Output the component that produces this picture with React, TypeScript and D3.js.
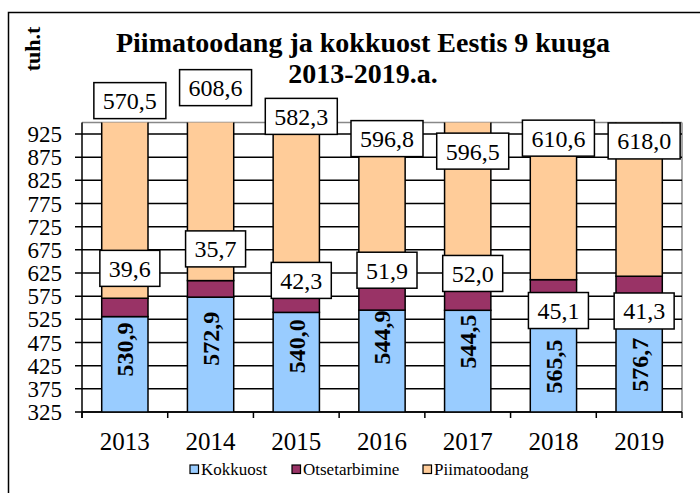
import React from "react";
import * as d3 from "d3";

const years = ["2013", "2014", "2015", "2016", "2017", "2018", "2019"];
const kokkuost = [530.9, 572.9, 540.0, 544.9, 544.5, 565.5, 576.7];
const otsetarbimine = [39.6, 35.7, 42.3, 51.9, 52.0, 45.1, 41.3];
const piimatoodang = [570.5, 608.6, 582.3, 596.8, 596.5, 610.6, 618.0];
const yTicks = [325, 375, 425, 475, 525, 575, 625, 675, 725, 775, 825, 875, 925];
const seriesNames = ["Kokkuost", "Otsetarbimine", "Piimatoodang"];

// manual label anchors (data units, as placed in the original)
const topLabelAt = [997, 1025, 963, 915, 888, 916, 910];
const midLabelAt = [635, 677, 609, 631, 624, 544, 543];
const blueLabelAt = [460, 483, 467, 486, 477, 423, 427];

const colors = ["#99CCFF", "#993366", "#FFCC99"];
const W = 700, H = 493;
const L = 82, R = 682, T = 122.4, B = 412;
const serif = '"Liberation Serif", "Times New Roman", serif';

const fmt = (v: number) => d3.format(".1f")(v).replace(".", ",");
const labelFs = 24;
const textW = (s: string) =>
  s.split("").reduce((a, c) => a + (c === "," ? 0.25 : 0.5), 0) * labelFs;

export default function App() {
  const x = d3.scaleBand<string>().domain(years).range([L, R]).paddingInner(0.46).paddingOuter(0.23);
  const y = d3.scaleLinear().domain([325, 950]).range([B, T]);
  const step = x.step();
  const bw = x.bandwidth();
  const cx = (yr: string) => x(yr)! + bw / 2;

  const rows = years.map((yr, i) => ({ yr, k: kokkuost[i], o: otsetarbimine[i], p: piimatoodang[i] }));
  const stack = d3.stack<any>().keys(["k", "o", "p"])(rows);

  const boxH = 36, pad = 9, dxLabel = 5;
  const legendItems = [
    { x: 190, name: seriesNames[0], c: colors[0] },
    { x: 292, name: seriesNames[1], c: colors[1] },
    { x: 423, name: seriesNames[2], c: colors[2] },
  ];
  const ts = { fontFamily: serif };

  const boxed = (key: string, xc: number, yc: number, s: string) => {
    const w = textW(s) + 2 * pad;
    return (
      <g key={key}>
        <rect x={xc - w / 2} y={yc - boxH / 2} width={w} height={boxH} fill="#fff" stroke="#000" strokeWidth={1.5} />
        <text x={xc} y={yc} dy="0.35em" textAnchor="middle" fontSize={labelFs} style={ts}>
          {s}
        </text>
      </g>
    );
  };

  return (
    <svg width={W} height={H} style={{ position: "absolute", left: 0, top: 0, fontFamily: serif }}>
      <rect x={0} y={0} width={W} height={H} fill="#fff" />
      <rect x={8.5} y={12.5} width={W + 10} height={H + 10} fill="none" stroke="#000" strokeWidth={1.5} />
      <defs>
        <clipPath id="plotclip">
          <rect x={L} y={T} width={R - L} height={B - T} />
        </clipPath>
      </defs>
      {/* title */}
      <text x={363} y={52} textAnchor="middle" fontSize={28} fontWeight="bold" style={ts}>
        Piimatoodang ja kokkuost Eestis 9 kuuga
      </text>
      <text x={363} y={83} textAnchor="middle" fontSize={28} fontWeight="bold" style={ts}>
        2013-2019.a.
      </text>
      <text transform="translate(40,49) rotate(-90)" textAnchor="middle" fontSize={22} fontWeight="bold" style={ts}>
        tuh.t
      </text>
      {/* plot border */}
      <line x1={L} x2={R} y1={T} y2={T} stroke="#888" strokeWidth={1.5} />
      <line x1={R} x2={R} y1={T} y2={B} stroke="#888" strokeWidth={1.5} />
      {/* gridlines + y ticks */}
      {yTicks.map((t) => (
        <g key={t}>
          <line x1={L - 7} x2={R} y1={y(t)} y2={y(t)} stroke="#000" strokeWidth={1.5} />
          <text x={62} y={y(t)} dy="0.35em" textAnchor="end" fontSize={23} style={ts}>
            {t}
          </text>
        </g>
      ))}
      {/* bars */}
      <g clipPath="url(#plotclip)">
        {stack.map((s, si) =>
          s.map((d, i) => (
            <rect
              key={si + "-" + i}
              x={x(years[i])!}
              y={y(d[1])}
              width={bw}
              height={y(d[0]) - y(d[1])}
              fill={colors[si]}
              stroke="#000"
              strokeWidth={1.5}
            />
          ))
        )}
      </g>
      {/* axes */}
      <line x1={L} x2={L} y1={T} y2={B + 6} stroke="#000" strokeWidth={1.5} />
      <line x1={L} x2={R} y1={B} y2={B} stroke="#000" strokeWidth={1.5} />
      {d3.range(years.length + 1).map((i) => (
        <line key={i} x1={L + i * step} x2={L + i * step} y1={B} y2={B + 6} stroke="#000" strokeWidth={1.5} />
      ))}
      {years.map((yr) => (
        <text key={yr} x={cx(yr)} y={450} textAnchor="middle" fontSize={25} style={ts}>
          {yr}
        </text>
      ))}
      {/* blue rotated labels */}
      {years.map((yr, i) => (
        <text
          key={"b" + yr}
          transform={`translate(${cx(yr)},${y(blueLabelAt[i])}) rotate(-90)`}
          textAnchor="middle"
          dy="0.35em"
          fontSize={24}
          fontWeight="bold"
          style={ts}
        >
          {fmt(kokkuost[i])}
        </text>
      ))}
      {/* boxed labels */}
      {years.map((yr, i) => boxed("m" + yr, cx(yr) + dxLabel, y(midLabelAt[i]), fmt(otsetarbimine[i])))}
      {years.map((yr, i) => boxed("t" + yr, cx(yr) + dxLabel, y(topLabelAt[i]), fmt(piimatoodang[i])))}
      {/* legend */}
      {legendItems.map((it) => (
        <g key={it.name}>
          <rect x={it.x} y={465} width={8.5} height={8.5} fill={it.c} stroke="#000" strokeWidth={1.2} />
          <text x={it.x + 11} y={469.5} dy="0.35em" fontSize={17} style={ts}>
            {it.name}
          </text>
        </g>
      ))}
    </svg>
  );
}
